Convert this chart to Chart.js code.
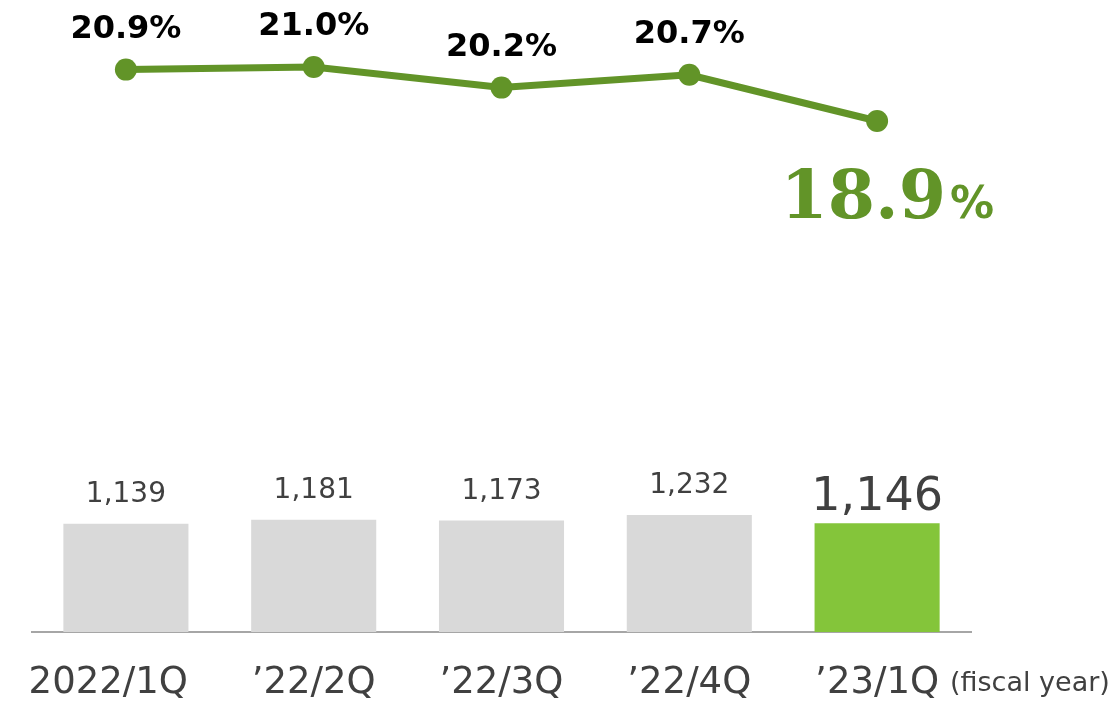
<!DOCTYPE html>
<html lang="en">
<head>
  <meta charset="utf-8">
  <title>Sales and ratio by quarter</title>
  <script src="https://cdn.jsdelivr.net/npm/chart.js@4.4.1/dist/chart.umd.min.js"></script>
  <style>
    html, body { margin: 0; padding: 0; background: #fff; }
    #wrap { width: 1119px; height: 703px; }
  </style>
</head>
<body>
  <div id="wrap"><canvas id="myChart"></canvas></div>

  <script>
  // values
  var categories = ['2022/1Q', '\u201922/2Q', '\u201922/3Q', '\u201922/4Q', '\u201923/1Q'];
  var salesValues = [1139, 1181, 1173, 1232, 1146];
  var ratioValues = [20.9, 21.0, 20.2, 20.7, 18.9];
  var barColors = ['#d9d9d9', '#d9d9d9', '#d9d9d9', '#d9d9d9', '#84c53a'];

  var sansFont = '"DejaVu Sans", Verdana, sans-serif';
  var lineGreen = '#629428';
  var textGray = '#404040';

  // value labels, category labels and the "(fiscal year)" note
  var labelsPlugin = {
    id: 'valueLabels',
    afterDatasetsDraw: function (chart) {
      var ctx = chart.ctx;
      var last = salesValues.length - 1;
      ctx.save();

      // bar values
      var bars = chart.getDatasetMeta(1).data;
      ctx.textAlign = 'center';
      ctx.textBaseline = 'alphabetic';
      ctx.fillStyle = textGray;
      bars.forEach(function (bar, i) {
        var txt = salesValues[i].toLocaleString('en-US');
        if (i === last) {
          ctx.font = '46px ' + sansFont;
          ctx.fillText(txt, bar.x, bar.y - 13);
        } else {
          ctx.font = '28px ' + sansFont;
          ctx.fillText(txt, bar.x, bar.y - 22);
        }
      });

      // ratio labels
      var pts = chart.getDatasetMeta(0).data;
      pts.forEach(function (pt, i) {
        if (i === last) {
          ctx.fillStyle = lineGreen;
          ctx.textAlign = 'right';
          ctx.font = 'bold 68px "DejaVu Serif", serif';
          ctx.fillText(ratioValues[i].toFixed(1), pt.x + 69, pt.y + 97);
          ctx.textAlign = 'left';
          ctx.font = 'bold 44px ' + sansFont;
          ctx.fillText('%', pt.x + 73, pt.y + 97);
        } else {
          ctx.fillStyle = '#000';
          ctx.textAlign = 'center';
          ctx.font = 'bold 32px ' + sansFont;
          ctx.fillText(ratioValues[i].toFixed(1) + '%', pt.x, pt.y - 32);
        }
      });

      // category labels under the axis
      var xs = chart.scales.x;
      ctx.fillStyle = textGray;
      ctx.font = '37px ' + sansFont;
      categories.forEach(function (cat, i) {
        var x = xs.getPixelForValue(i);
        if (i === 0) {
          ctx.textAlign = 'right';
          ctx.fillText(cat, x + 62, 693);
        } else {
          ctx.textAlign = 'center';
          ctx.fillText(cat, x, 693);
        }
      });

      // axis note
      ctx.textAlign = 'left';
      ctx.font = '27px ' + sansFont;
      ctx.fillText('(fiscal year)', 950, 691);

      ctx.restore();
    }
  };

  var ctx = document.getElementById('myChart').getContext('2d');

  var config = {
    type: 'bar',
    data: {
      labels: categories,
      datasets: [{
        type: 'line',
        label: 'Ratio',
        data: ratioValues,
        yAxisID: 'yRatio',
        borderColor: lineGreen,
        backgroundColor: lineGreen,
        borderWidth: 7,
        pointRadius: 11,
        pointBackgroundColor: lineGreen,
        pointBorderWidth: 0,
        tension: 0,
        order: 0
      }, {
        type: 'bar',
        label: 'Sales',
        data: salesValues,
        yAxisID: 'ySales',
        backgroundColor: barColors,
        categoryPercentage: 1.0,
        barPercentage: 0.666,
        order: 1
      }]
    },
    options: {
      responsive: true,
      maintainAspectRatio: false,
      animation: false,
      layout: { padding: { left: 32, right: 148, top: 0, bottom: 0 } },
      plugins: {
        legend: { display: false },
        tooltip: { enabled: false }
      },
      scales: {
        x: {
          grid: { display: false, drawTicks: false },
          border: { display: true, color: '#a6a6a6', width: 2 },
          ticks: { display: false },
          afterFit: function (scale) {
            scale.height = 71;
          }
        },
        ySales: {
          display: false,
          min: 0,
          max: 6540
        },
        yRatio: {
          display: false,
          min: -0.98,
          max: 23.18
        }
      }
    },
    plugins: [labelsPlugin]
  };

  window.onload = function () {
    window.myChart = new Chart(ctx, config);
  };
  </script>
</body>
</html>
